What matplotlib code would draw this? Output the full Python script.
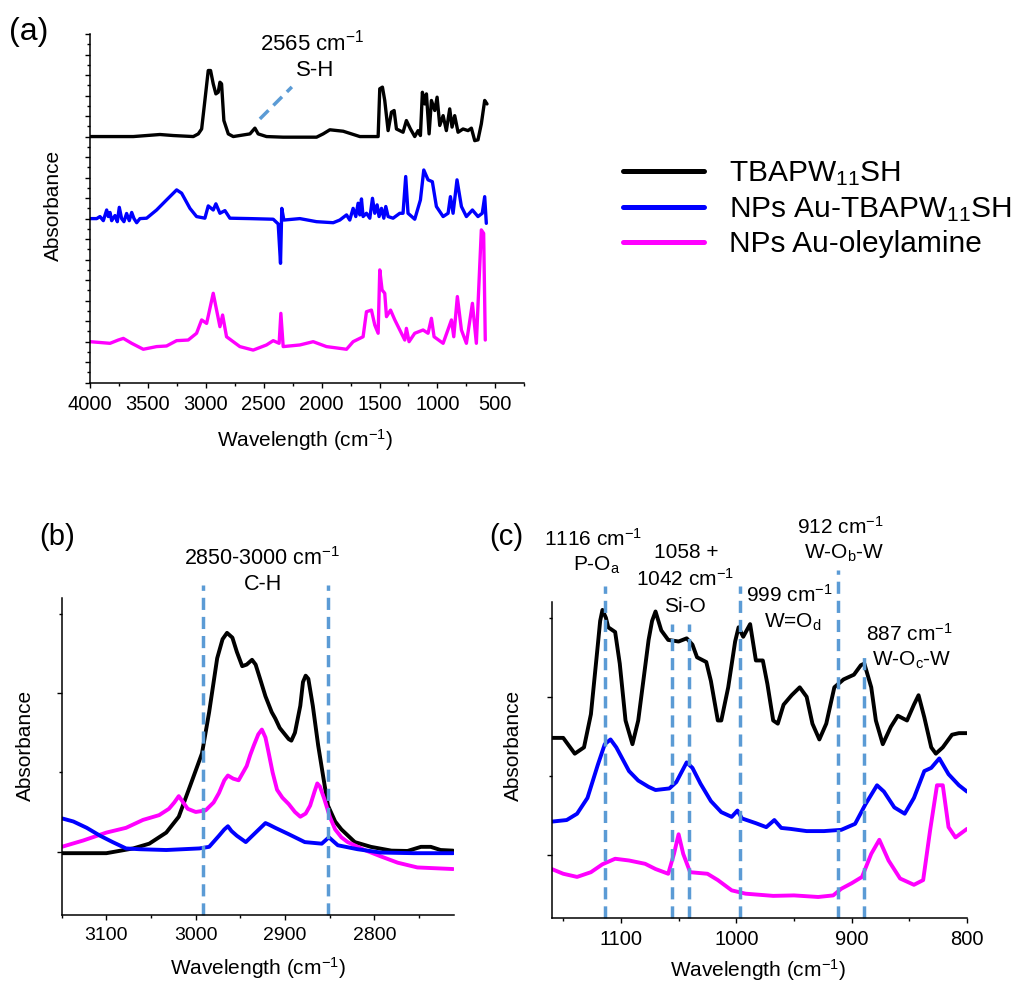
import matplotlib
matplotlib.use('Agg')
from matplotlib import pyplot as plt
from matplotlib.ticker import MultipleLocator

plt.rcParams['font.family'] = ['Liberation Sans', 'DejaVu Sans']
plt.rcParams['mathtext.default'] = 'regular'
plt.rcParams['lines.solid_joinstyle'] = 'round'
plt.rcParams['lines.solid_capstyle'] = 'round'

W, H = 1019, 983


def fx(px):
    return px / W


def fy(py):
    return 1 - py / H


names = ['TBAPW$_{11}$SH', 'NPs Au-TBAPW$_{11}$SH', 'NPs Au-oleylamine']
colors = ['black', '#0000ff', '#ff00ff']
dash_color = '#5b9bd5'

# ---- panel (a): full spectra (baseline at 0, stacked with offsets) ----
a_black_wn = [4000, 3626, 3396, 3281, 3108, 3065, 3036, 3008, 2979, 2959, 2936, 2913, 2893, 2878,
              2864, 2844, 2806, 2763, 2619, 2576, 2548, 2476, 2332, 2044, 1987, 1929, 1814, 1670,
              1512, 1498, 1475, 1455, 1426, 1397, 1374, 1354, 1297, 1268, 1233, 1196, 1167, 1147,
              1130, 1110, 1095, 1072, 1052, 1023, 1003, 980, 951, 923, 894, 874, 851, 822, 779,
              736, 707, 678, 650, 621, 592, 572]
a_black_ab = [0, 0, 0.1, 0.05, 0, 0.13, 0.37, 1.76, 3.22, 3.22, 2.57, 2.08, 2.16, 2.65,
              2.57, 0.78, 0.13, 0, 0.13, 0.41, 0.13, 0, -0.03, -0.03, 0.13, 0.33, 0.26, 0,
              0, 2.33, 2.41, 1.76, 0.29, 1.19, 1.27, 0.37, 0.21, 0.78, 0.37, 0, 0.29, 0.05,
              2.16, 1.59, 2.08, 0.13, 1.76, 1.27, 1.92, 0.54, 1.02, 0.29, 1.35, 0.46, 1.02, 0.21, 0.37,
              0.29, 0.41, -0.2, -0.16, 0.62, 1.76, 1.59]

a_blue_wn = [4000, 3942, 3914, 3885, 3856, 3842, 3827, 3813, 3784, 3764, 3747, 3727, 3707, 3684,
             3661, 3640, 3620, 3597, 3569, 3511, 3425, 3339, 3252, 3209, 3137, 3080, 3008, 2979,
             2936, 2913, 2878, 2835, 2792, 2619, 2418, 2375, 2355, 2344, 2326, 2188, 2044, 1900,
             1843, 1785, 1757, 1728, 1705, 1685, 1670, 1656, 1642, 1613, 1584, 1561, 1541, 1521,
             1504, 1483, 1463, 1446, 1426, 1383, 1325, 1297, 1274, 1254, 1196, 1147, 1118, 1081,
             1044, 1009, 951, 908, 888, 865, 831, 793, 750, 698, 650, 613, 592, 578]
a_blue_ab = [0, 0.0, 0.1, -0.1, 0.42, 0.1, 0.3, -0.1, 0.15, -0.15, 0.55, 0.0, -0.15, 0.25,
             -0.1, 0.3, 0.0, -0.2, 0.0, 0.02, 0.42, 0.91, 1.40, 1.24, 0.5, 0.1, 0.02, 0.62,
             0.42, 0.72, 0.26, 0.39, 0.02, 0, -0.03, -0.26, -2.18, 0.5, -0.07, 0, -0.15, -0.2,
             -0.07, 0.18, -0.07, 0.50, 0.10, 0.75, 0.18, 0.96, 0.10, 0.26, 0.02, 0.99, 0.26, 0.67,
             0.10, 0.50, 0.02, 0.59, 0.10, 0.02, 0.26, 0.26, 2.05, 0.26, -0.03, 0.91, 2.37, 1.89,
             1.80, 0.59, 0.1, 0.26, 1.07, 0.26, 1.89, 0.59, 0.1, 0.42, 0.1, 0.26, 1.07, -0.23]

a_mag_wn = [4000, 3827, 3756, 3712, 3640, 3540, 3425, 3339, 3252, 3152, 3080, 3036, 2993, 2936,
            2913, 2878, 2855, 2821, 2706, 2591, 2476, 2418, 2367, 2352, 2332, 2188, 2073, 1958,
            1785, 1728, 1642, 1613, 1570, 1541, 1512, 1498, 1478, 1455, 1440, 1405, 1368, 1325,
            1282, 1268, 1245, 1196, 1124, 1081, 1052, 1029, 951, 879, 859, 828, 793, 750, 698,
            664, 644, 621, 601, 587]
a_mag_ab = [0, -0.08, 0.08, 0.16, -0.08, -0.37, -0.24, -0.21, 0.05, 0.08, 0.41, 1.06, 0.89, 2.36,
            1.71, 0.73, 1.30, 0.24, -0.24, -0.41, -0.16, 0.05, -0.08, 1.38, -0.24, -0.16, 0, -0.24,
            -0.37, 0, 0.24, 1.46, 1.54, 0.81, 0.41, 3.50, 2.52, 2.36, 1.22, 1.54, 1.06, 0.57,
            0.08, 0.65, 0, 0.41, 0.57, 0.41, 1.14, 0.24, -0.08, 1.06, 0.24, 2.2, 0.57, -0.08, 1.87,
            -0.08, 2.52, 5.45, 5.28, 0.08]

a_offsets = [12, 8, 2]
sh_line_wn = [2533, 2257]
sh_line_y = [12.86, 14.42]

# ---- panel (b): C-H region ----
b_black_wn = [3150, 3100, 3070, 3052, 3033, 3019, 3004, 2993, 2985, 2976, 2970, 2965, 2959, 2954,
              2948, 2943, 2937, 2933, 2928, 2922, 2915, 2911, 2906, 2896, 2893, 2889, 2883, 2880,
              2877, 2874, 2869, 2863, 2857, 2852, 2848, 2844, 2837, 2822, 2804, 2781, 2763, 2748,
              2737, 2726, 2712]
b_black_ab = [-0.01, -0.01, 0.02, 0.05, 0.12, 0.22, 0.45, 0.62, 0.88, 1.22, 1.34, 1.38, 1.35, 1.26,
              1.17, 1.18, 1.21, 1.18, 1.09, 0.98, 0.88, 0.84, 0.78, 0.71, 0.70, 0.75, 0.92, 1.07,
              1.11, 1.09, 0.92, 0.67, 0.46, 0.29, 0.24, 0.19, 0.14, 0.06, 0.03, 0.006, 0.004, 0.03,
              0.03, 0.01, 0.006]
b_blue_wn = [3150, 3137, 3122, 3107, 3093, 3078, 3063, 3033, 2996, 2985, 2974, 2968, 2964, 2960,
             2954, 2944, 2933, 2922, 2918, 2911, 2896, 2878, 2859, 2851, 2841, 2819, 2793, 2756,
             2712]
b_blue_ab = [0.21, 0.19, 0.15, 0.10, 0.06, 0.02, 0.015, 0.01, 0.02, 0.03, 0.10, 0.14, 0.16, 0.13,
             0.10, 0.06, 0.12, 0.18, 0.17, 0.15, 0.11, 0.06, 0.05, 0.09, 0.04, 0.015, -0.006, -0.01,
             -0.01]
b_mag_wn = [3150, 3126, 3100, 3078, 3059, 3041, 3030, 3024, 3019, 3014, 3009, 3000, 2989, 2980,
            2974, 2968, 2964, 2958, 2952, 2947, 2943, 2939, 2935, 2930, 2926, 2922, 2919, 2914,
            2909, 2903, 2896, 2889, 2883, 2877, 2872, 2867, 2864, 2861, 2856, 2850, 2844, 2837,
            2830, 2811, 2793, 2774, 2752, 2712]
b_mag_ab = [0.03, 0.07, 0.12, 0.15, 0.20, 0.23, 0.27, 0.31, 0.35, 0.31, 0.27, 0.25, 0.26, 0.31,
            0.37, 0.45, 0.48, 0.46, 0.45, 0.50, 0.54, 0.61, 0.67, 0.74, 0.77, 0.72, 0.64, 0.50,
            0.39, 0.34, 0.30, 0.25, 0.22, 0.24, 0.29, 0.38, 0.43, 0.41, 0.33, 0.22, 0.14, 0.09,
            0.06, 0.01, -0.03, -0.07, -0.10, -0.11]
b_marks = [2992, 2852]

# ---- panel (c): POM fingerprint region ----
c_black_wn = [1160, 1150, 1140, 1132, 1126, 1120, 1118, 1116, 1113, 1111, 1105, 1101, 1096, 1090,
              1085, 1079, 1076, 1073, 1070, 1065, 1059, 1050, 1043, 1038, 1034, 1026, 1022, 1016,
              1013, 1007, 1001, 998, 994, 988, 983, 977, 973, 968, 964, 959, 952, 945, 939, 934,
              928, 922, 915, 907, 898, 892, 889, 883, 879, 873, 866, 860, 852, 846, 842, 837, 831,
              827, 821, 813, 807, 800]
c_black_ab = [0.74, 0.74, 0.64, 0.68, 0.89, 1.33, 1.48, 1.55, 1.50, 1.44, 1.41, 1.21, 0.85, 0.70,
              0.85, 1.19, 1.36, 1.48, 1.54, 1.42, 1.36, 1.35, 1.37, 1.33, 1.25, 1.22, 1.10, 0.85,
              0.85, 1.06, 1.35, 1.44, 1.38, 1.46, 1.23, 1.23, 1.08, 0.85, 0.83, 0.95, 1.01, 1.06,
              1.00, 0.83, 0.73, 0.83, 1.06, 1.11, 1.14, 1.20, 1.21, 1.06, 0.85, 0.70, 0.81, 0.88,
              0.85, 0.95, 1.01, 0.87, 0.68, 0.64, 0.68, 0.76, 0.77, 0.77]
c_blue_wn = [1160, 1147, 1138, 1129, 1120, 1114, 1109, 1104, 1093, 1085, 1076, 1070, 1058, 1052,
             1043, 1038, 1031, 1022, 1013, 1004, 999, 995, 983, 974, 967, 961, 953, 939, 924,
             909, 897, 888, 878, 872, 863, 854, 846, 837, 831, 824, 816, 807, 800]
c_blue_ab = [0.21, 0.22, 0.26, 0.36, 0.57, 0.70, 0.73, 0.68, 0.53, 0.47, 0.43, 0.41, 0.42, 0.46,
             0.585, 0.55, 0.45, 0.34, 0.27, 0.24, 0.28, 0.23, 0.20, 0.175, 0.22, 0.17, 0.164,
             0.15, 0.15, 0.158, 0.196, 0.32, 0.44, 0.40, 0.30, 0.26, 0.36, 0.53, 0.55, 0.61,
             0.51, 0.44, 0.40]
c_mag_wn = [1160, 1150, 1138, 1126, 1116, 1105, 1093, 1079, 1070, 1059, 1054, 1050, 1046, 1040,
            1025, 1016, 1004, 992, 968, 950, 929, 916, 909, 900, 891, 883, 876, 868, 858, 846,
            838, 832, 826, 821, 816, 810, 800]
c_mag_ab = [-0.09, -0.12, -0.14, -0.11, -0.06, -0.025, -0.036, -0.057, -0.09, -0.12, 0.006, 0.13,
            0.006, -0.11, -0.12, -0.16, -0.225, -0.246, -0.26, -0.257, -0.267, -0.257, -0.215,
            -0.18, -0.14, 0.006, 0.095, -0.036, -0.15, -0.19, -0.16, 0.154, 0.44, 0.44, 0.175,
            0.11, 0.164]
c_marks = [1114, 1056, 1041, 997, 912, 889]
c_mark_tops = [1.70, 1.46, 1.46, 1.70, 1.80, 1.25]

fig = plt.figure(figsize=(W / 100, H / 100), dpi=100)

ax_a = fig.add_axes([fx(90), fy(382.7), fx(524.3) - fx(90), fy(34) - fy(382.7)])
ax_b = fig.add_axes([fx(61.7), fy(915), fx(454) - fx(61.7), fy(598) - fy(915)])
ax_c = fig.add_axes([fx(551.7), fy(918), fx(967) - fx(551.7), fy(602) - fy(918)])

for ax in (ax_a, ax_b, ax_c):
    for s in ('top', 'right'):
        ax.spines[s].set_visible(False)
    for s in ('left', 'bottom'):
        ax.spines[s].set_linewidth(1.1)
    ax.tick_params(which='both', direction='out', width=1.0, labelsize=14.5, pad=5)
    ax.tick_params(which='major', length=3.5)
    ax.tick_params(which='minor', length=2.2)
    ax.tick_params(axis='y', labelleft=False)
ax_b.tick_params(labelsize=14)

dash = (0, (3.5, 2))

# (a)
lines = []
for wn, ab, off, c, n in zip([a_black_wn, a_blue_wn, a_mag_wn], [a_black_ab, a_blue_ab, a_mag_ab],
                             a_offsets, colors, names):
    l, = ax_a.plot(wn, [v + off for v in ab], color=c, lw=2.4, label=n)
    lines.append(l)
ax_a.plot(sh_line_wn, sh_line_y, color=dash_color, lw=2.5, linestyle=dash, solid_capstyle='butt')
ax_a.set_xlim(4000, 250)
ax_a.set_ylim(0, 17)
ax_a.xaxis.set_major_locator(MultipleLocator(500))
ax_a.xaxis.set_minor_locator(MultipleLocator(250))
ax_a.yaxis.set_major_locator(MultipleLocator(1))
ax_a.yaxis.set_minor_locator(MultipleLocator(0.5))

# (b)
for wn, ab, c in zip([b_black_wn, b_mag_wn, b_blue_wn], [b_black_ab, b_mag_ab, b_blue_ab],
                     [colors[0], colors[2], colors[1]]):
    ax_b.plot(wn, ab, color=c, lw=2.8)
for m in b_marks:
    ax_b.plot([m, m], [-0.4, 1.68], color=dash_color, lw=2.5, linestyle=dash, clip_on=False)
ax_b.set_xlim(3150, 2711)
ax_b.set_ylim(-0.4, 1.6)
ax_b.xaxis.set_major_locator(MultipleLocator(100))
ax_b.xaxis.set_minor_locator(MultipleLocator(50))
ax_b.yaxis.set_major_locator(MultipleLocator(1))
ax_b.yaxis.set_minor_locator(MultipleLocator(0.5))

# (c)
for wn, ab, c in zip([c_black_wn, c_blue_wn, c_mag_wn], [c_black_ab, c_blue_ab, c_mag_ab], colors):
    ax_c.plot(wn, ab, color=c, lw=2.8)
for m, t in zip(c_marks, c_mark_tops):
    ax_c.plot([m, m], [-0.4, t], color=dash_color, lw=2.5, linestyle=dash, clip_on=False)
ax_c.set_xlim(1160, 800)
ax_c.set_ylim(-0.4, 1.6)
ax_c.xaxis.set_major_locator(MultipleLocator(100))
ax_c.xaxis.set_minor_locator(MultipleLocator(50))
ax_c.yaxis.set_major_locator(MultipleLocator(1))
ax_c.yaxis.set_minor_locator(MultipleLocator(0.5))

# labels and annotations
lab = dict(fontsize=15, ha='center', va='center')
fig.text(fx(305), fy(440), 'Wavelength (cm$^{-1}$)', **lab)
fig.text(fx(53), fy(205), 'Absorbance', rotation=90, **lab)
fig.text(fx(258), fy(968), 'Wavelength (cm$^{-1}$)', **lab)
fig.text(fx(25), fy(745), 'Absorbance', rotation=90, **lab)
fig.text(fx(758), fy(970), 'Wavelength (cm$^{-1}$)', **lab)
fig.text(fx(513), fy(745), 'Absorbance', rotation=90, **lab)

fig.text(fx(29), fy(32), '(a)', fontsize=23, ha='center', va='center')
fig.text(fx(57), fy(537), '(b)', fontsize=21, ha='center', va='center')
fig.text(fx(506), fy(537), '(c)', fontsize=21, ha='center', va='center')

ann = dict(fontsize=16, ha='center', va='center')
fig.text(fx(312), fy(43), '2565 cm$^{-1}$', **ann)
fig.text(fx(315), fy(71), 'S-H', **ann)
fig.text(fx(262), fy(559), '2850-3000 cm$^{-1}$', fontsize=15.5, ha='center', va='center')
fig.text(fx(263), fy(585), 'C-H', fontsize=15.5, ha='center', va='center')

ann_c = dict(fontsize=15, ha='center', va='center')
fig.text(fx(593), fy(539), '1116 cm$^{-1}$', **ann_c)
fig.text(fx(597), fy(565), 'P-O$_a$', **ann_c)
fig.text(fx(686), fy(553), '1058 +', **ann_c)
fig.text(fx(685), fy(579), '1042 cm$^{-1}$', **ann_c)
fig.text(fx(685), fy(606), 'Si-O', **ann_c)
fig.text(fx(789), fy(595), '999 cm$^{-1}$', **ann_c)
fig.text(fx(793), fy(622), 'W=O$_d$', **ann_c)
fig.text(fx(840), fy(527), '912 cm$^{-1}$', **ann_c)
fig.text(fx(844), fy(553), 'W-O$_b$-W', **ann_c)
fig.text(fx(909), fy(634), '887 cm$^{-1}$', **ann_c)
fig.text(fx(912), fy(660), 'W-O$_c$-W', **ann_c)

leg = fig.legend(handles=lines, loc='center left', bbox_to_anchor=(fx(623), fy(209)),
                 frameon=False, fontsize=21.5, handlelength=2.7, handletextpad=0.85,
                 labelspacing=0.22, borderpad=0, borderaxespad=0)
for l in leg.get_lines():
    l.set_linewidth(3.6)

fig.savefig('out.png', dpi=100)
